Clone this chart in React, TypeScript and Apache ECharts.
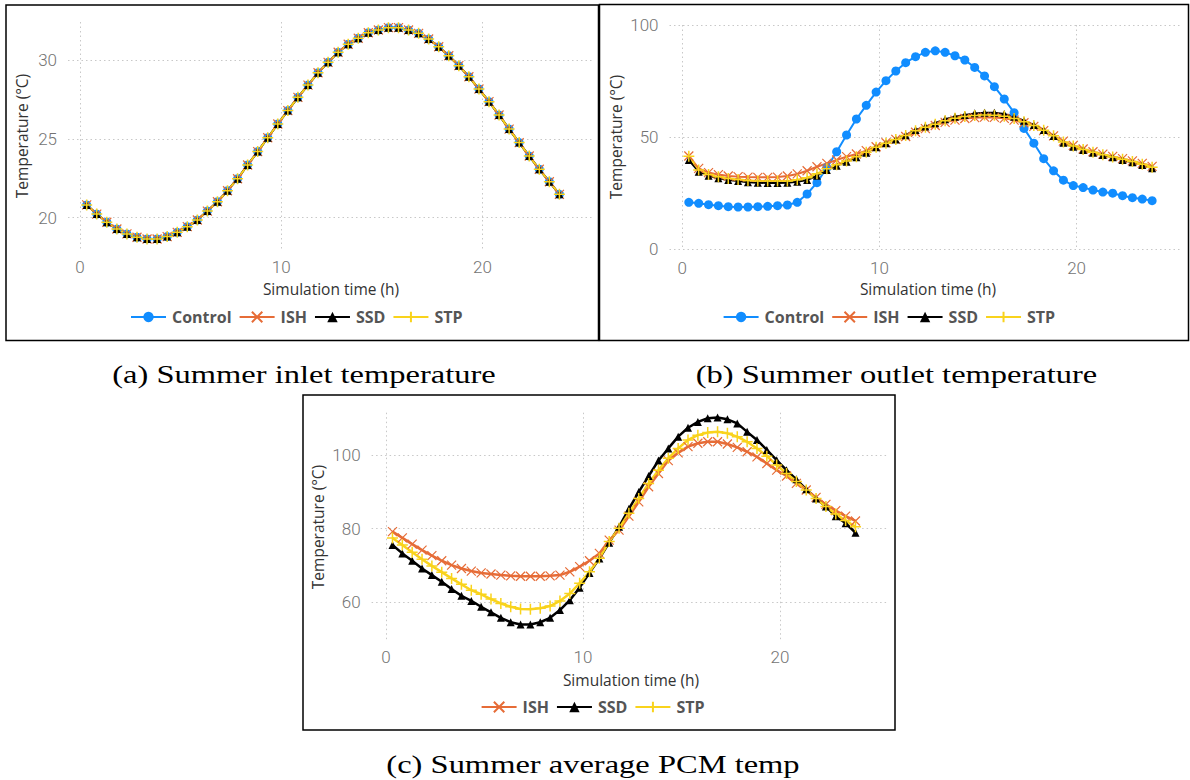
import React, { useEffect, useRef } from "react";
import * as echarts from "echarts";

// Simulation hours (half-hour samples)
const HOURS = [
  0.33, 0.83, 1.33, 1.83, 2.33, 2.83, 3.33, 3.83, 4.33, 4.83, 5.33, 5.83,
  6.33, 6.83, 7.33, 7.83, 8.33, 8.83, 9.33, 9.83, 10.33, 10.83, 11.33, 11.83,
  12.33, 12.83, 13.33, 13.83, 14.33, 14.83, 15.33, 15.83, 16.33, 16.83, 17.33, 17.83,
  18.33, 18.83, 19.33, 19.83, 20.33, 20.83, 21.33, 21.83, 22.33, 22.83, 23.33, 23.83,
];

// (a) inlet temperature — identical for all four configurations
const INLET = [
  20.81, 20.23, 19.71, 19.28, 18.97, 18.76, 18.65, 18.65, 18.8, 19.07, 19.43, 19.85,
  20.42, 21.01, 21.71, 22.47, 23.34, 24.19, 25.07, 25.94, 26.79, 27.63, 28.41, 29.19,
  29.85, 30.49, 31.0, 31.38, 31.73, 31.9, 32.05, 32.05, 31.9, 31.69, 31.33, 30.84,
  30.27, 29.64, 28.94, 28.16, 27.36, 26.51, 25.62, 24.76, 23.91, 23.07, 22.28, 21.48,
];

// (b) outlet temperature
const OUT_CONTROL = [
  20.95, 20.5, 19.9, 19.45, 19.0, 18.85, 18.85, 19.0, 19.15, 19.45, 19.75, 20.95,
  24.65, 29.7, 36.4, 43.5, 50.96, 58.1, 64.2, 70.1, 75.2, 79.5, 83.2, 85.9,
  87.8, 88.5, 87.8, 86.3, 84.4, 81.1, 77.3, 72.5, 67.0, 60.9, 53.9, 47.3,
  40.4, 35.0, 30.8, 28.4, 27.5, 26.4, 25.5, 25.0, 23.9, 23.0, 22.4, 21.7,
];
const OUT_ISH = [
  41.6, 36.1, 34.2, 33.3, 32.7, 32.4, 32.2, 32.1, 32.1, 32.2, 32.7, 33.6,
  35.0, 36.8, 38.3, 39.8, 41.3, 42.5, 44.0, 45.7, 47.5, 49.0, 50.3, 52.2,
  53.8, 55.2, 56.6, 57.6, 58.3, 58.7, 58.9, 58.8, 58.4, 57.6, 56.4, 54.8,
  52.9, 50.6, 48.2, 46.3, 44.7, 43.5, 42.4, 41.4, 40.4, 39.4, 38.3, 37.0,
];
const OUT_SSD = [
  39.8, 34.6, 32.8, 31.65, 30.9, 30.45, 29.9, 29.7, 29.55, 29.55, 29.7, 30.15,
  30.9, 32.8, 35.35, 37.3, 39.05, 41.0, 43.1, 45.5, 47.3, 49.0, 50.9, 53.2,
  54.7, 56.2, 58.0, 59.1, 59.9, 60.6, 60.9, 60.9, 60.3, 59.1, 57.3, 55.4,
  53.2, 50.5, 47.5, 45.7, 44.3, 43.1, 42.0, 41.0, 39.8, 38.8, 37.6, 36.1,
];
const OUT_STP = [
  41.5, 35.4, 33.4, 32.3, 31.6, 31.1, 30.7, 30.5, 30.4, 30.4, 30.5, 31.0,
  31.9, 33.7, 35.9, 37.7, 39.4, 41.3, 43.3, 45.5, 47.3, 49.0, 50.7, 52.8,
  54.4, 55.8, 57.3, 58.4, 59.2, 59.7, 59.9, 59.8, 59.3, 58.3, 56.9, 55.2,
  53.1, 50.6, 47.8, 46.0, 44.5, 43.3, 42.2, 41.2, 40.1, 39.1, 37.9, 36.6,
];

// (c) average PCM temperature
const PCM_ISH = [
  79.2, 77.5, 75.8, 74.2, 72.7, 71.3, 70.1, 69.2, 68.5, 68.0, 67.7, 67.4,
  67.2, 67.1, 67.1, 67.1, 67.2, 67.4, 68.3, 69.7, 71.3, 73.3, 76.9, 79.6,
  83.4, 87.3, 91.4, 95.0, 98.5, 100.6, 102.3, 103.2, 103.6, 103.6, 103.0, 102.1,
  100.9, 99.5, 97.7, 95.9, 94.3, 92.3, 90.5, 88.5, 86.6, 84.9, 83.4, 82.1,
];
const PCM_SSD = [
  75.56, 73.3, 71.3, 69.2, 67.4, 65.6, 63.6, 61.8, 60.4, 58.8, 57.3, 55.8,
  54.6, 54.0, 54.0, 54.6, 55.8, 57.9, 60.6, 64.0, 68.0, 71.9, 76.2, 80.5,
  85.4, 90.0, 94.3, 98.5, 101.8, 105.0, 107.4, 109.0, 110.0, 110.2, 109.7, 108.6,
  106.3, 104.1, 101.4, 98.6, 95.9, 93.4, 90.7, 88.2, 86.0, 83.4, 81.5, 78.9,
];
const PCM_STP = [
  77.5, 75.6, 73.6, 71.7, 69.9, 68.2, 66.5, 64.9, 63.3, 62.2, 60.9, 59.7,
  58.8, 58.2, 58.1, 58.4, 59.0, 60.4, 62.4, 65.2, 68.3, 72.0, 76.5, 80.1,
  84.2, 88.2, 92.3, 95.9, 99.1, 101.8, 104.1, 105.4, 106.1, 106.3, 105.9, 105.0,
  103.6, 101.8, 99.7, 97.3, 95.0, 92.8, 90.5, 88.2, 86.0, 84.0, 82.2, 80.5,
];

const LEGEND_ALL = ["Control", "ISH", "SSD", "STP"];
const LEGEND_PCM = ["ISH", "SSD", "STP"];
const X_TITLE = "Simulation time (h)";
const Y_TITLE = "Temperature (°C)";
const CAPTIONS = [
  "(a) Summer inlet temperature",
  "(b) Summer outlet temperature",
  "(c) Summer average PCM temp",
];

const COLORS: Record<string, string> = {
  Control: "#118DFF",
  ISH: "#E66C37",
  SSD: "#000000",
  STP: "#F9D31C",
};

const CROSS = "path://M0,0L10,10M10,0L0,10";
const PLUS = "path://M5,0L5,10M0,5L10,5";

function pairs(values: number[]) {
  return HOURS.map((h, i) => [h, values[i]]);
}

function makeSeries(name: string, values: number[], idx: number, width = 2) {
  const color = COLORS[name];
  const base: any = {
    type: "line",
    name,
    xAxisIndex: idx,
    yAxisIndex: idx,
    data: pairs(values),
    lineStyle: { color, width },
    showAllSymbol: true,
  };
  if (name === "Control") {
    base.symbol = "circle";
    base.symbolSize = 9;
    base.itemStyle = { color, borderWidth: 0 };
  } else if (name === "ISH") {
    base.symbol = CROSS;
    base.symbolSize = 9;
    base.itemStyle = { color, borderColor: color, borderWidth: 1.2 };
  } else if (name === "SSD") {
    base.symbol = "triangle";
    base.symbolSize = 8;
    base.itemStyle = { color, borderWidth: 0 };
  } else {
    base.symbol = PLUS;
    base.symbolSize = 11;
    base.itemStyle = { color, borderColor: color, borderWidth: 1.5 };
  }
  return base;
}

const tickFont = { color: "#737373", fontFamily: "Roboto", fontWeight: 300, fontSize: 17 };
const gridLine = { show: true, lineStyle: { color: "#C8C8C8", width: 1, type: [1.5, 3] as any } };

function xAxis(idx: number, min: number, max: number, margin: number) {
  return {
    type: "value",
    gridIndex: idx,
    min,
    max,
    minInterval: 10,
    maxInterval: 10,
    axisLine: { show: false },
    axisTick: { show: false },
    axisLabel: {
      ...tickFont,
      margin,
      showMinLabel: false,
      showMaxLabel: false,
      formatter: (v: number) => (Math.abs(v % 10) < 1e-9 ? String(v) : ""),
    },
    splitLine: { ...gridLine, showMinLine: false, showMaxLine: false },
  };
}

function yAxis(idx: number, min: number, max: number, step: number, edgeLines: boolean) {
  return {
    type: "value",
    gridIndex: idx,
    min,
    max,
    minInterval: step,
    maxInterval: step,
    axisLine: { show: false },
    axisTick: { show: false },
    axisLabel: {
      ...tickFont,
      margin: 11,
      formatter: (v: number) => (Math.abs(v % step) < 1e-9 ? String(v) : ""),
    },
    splitLine: edgeLines ? gridLine : { ...gridLine, showMinLine: false, showMaxLine: false },
  };
}

function legend(data: string[], left: number, top: number) {
  return {
    data,
    left,
    top,
    padding: 0,
    itemWidth: 35,
    itemHeight: 13,
    itemGap: 7,
    selectedMode: false,
    textStyle: { color: "#555555", fontFamily: "Open Sans", fontWeight: 700, fontSize: 16, padding: [0, 0, 0, 1] },
  };
}

const titleStyle = { fill: "#333333", fontFamily: "Open Sans", fontSize: 15.5 };
const captionStyle = { fill: "#000000", fontFamily: "Liberation Serif", fontSize: 26 };

function buildOption() {
  const series: any[] = [];
  LEGEND_ALL.forEach((n) => series.push(makeSeries(n, INLET, 0)));
  series.push(makeSeries("Control", OUT_CONTROL, 1));
  series.push(makeSeries("ISH", OUT_ISH, 1));
  series.push(makeSeries("SSD", OUT_SSD, 1));
  series.push(makeSeries("STP", OUT_STP, 1));
  series.push(makeSeries("ISH", PCM_ISH, 2, 2.5));
  series.push(makeSeries("SSD", PCM_SSD, 2, 2.5));
  series.push(makeSeries("STP", PCM_STP, 2, 2.5));

  const text = (t: string, x: number, y: number, style: any, rotation = 0, scaleX = 1) => ({
    type: "text",
    x,
    y,
    rotation,
    scaleX,
    style: { text: t, align: "center", verticalAlign: "middle", ...style },
  });
  const frame = (x: number, y: number, w: number, h: number) => ({
    type: "rect",
    shape: { x, y, width: w, height: h },
    style: { fill: "none", stroke: "#000000", lineWidth: 1.5 },
  });

  return {
    animation: false,
    backgroundColor: "#ffffff",
    grid: [
      { left: 68, top: 22, width: 525, height: 228 },
      { left: 669.5, top: 25, width: 512, height: 224.3 },
      { left: 371.6, top: 412.7, width: 515.8, height: 229 },
    ],
    xAxis: [xAxis(0, -0.6, 25.5, 8), xAxis(1, -0.65, 25.32, 10), xAxis(2, -0.73, 25.45, 7)],
    yAxis: [yAxis(0, 17.95, 32.41, 5, false), yAxis(1, 0, 100, 50, true), yAxis(2, 49.32, 111.5, 20, false)],
    legend: [legend(LEGEND_ALL, 130, 309), legend(LEGEND_ALL, 722.6, 309), legend(LEGEND_PCM, 480.6, 699)],
    series,
    graphic: [
      frame(6, 5, 592.5, 335.5),
      frame(599.5, 4.5, 589, 336),
      frame(303, 395, 592, 335),
      text(Y_TITLE, 22, 136, titleStyle, Math.PI / 2),
      text(Y_TITLE, 615.5, 137, titleStyle, Math.PI / 2),
      text(Y_TITLE, 317.5, 527, titleStyle, Math.PI / 2),
      text(X_TITLE, 331, 289, titleStyle),
      text(X_TITLE, 928, 288.5, titleStyle),
      text(X_TITLE, 631, 679.5, titleStyle),
      text(CAPTIONS[0], 304, 374, captionStyle, 0, 1.25),
      text(CAPTIONS[1], 896.5, 374, captionStyle, 0, 1.25),
      text(CAPTIONS[2], 593, 764, captionStyle, 0, 1.25),
    ],
  };
}

export default function App() {
  const ref = useRef<HTMLDivElement>(null);
  useEffect(() => {
    if (!ref.current) return;
    const chart = echarts.init(ref.current, undefined, { renderer: "svg" });
    chart.setOption(buildOption() as any);
    return () => chart.dispose();
  }, []);
  return (
    <div
      ref={ref}
      style={{ position: "absolute", left: 0, top: 0, width: 1190, height: 780, background: "#fff" }}
    />
  );
}
